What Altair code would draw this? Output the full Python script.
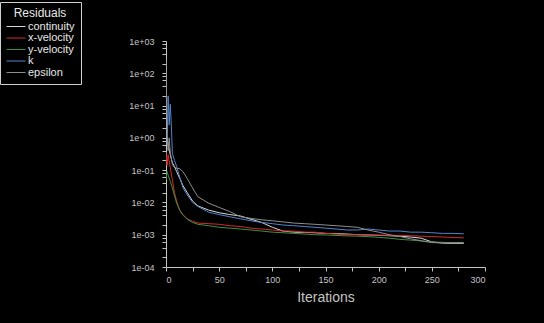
import altair as alt
import pandas as pd

# ---- data ----
series_names = ["continuity", "x-velocity", "y-velocity", "k", "epsilon"]
series_colors = ["#d8d8d8", "#d42a2a", "#3f8f3f", "#5484cc", "#8e8e8e"]

continuity_iter = [1, 2, 4, 6, 8, 10, 13, 16, 20, 25, 30, 40, 50, 60, 70, 80, 90, 100, 110, 120,
                   130, 140, 150, 160, 170, 180, 190, 200, 210, 220, 230, 240, 250, 260, 270, 280]
continuity_val = [1.0, 0.6, 0.3, 0.17, 0.13, 0.09, 0.055, 0.033, 0.02, 0.011, 0.0078, 0.0058, 0.0048,
                  0.0042, 0.0038, 0.003, 0.0024, 0.0017, 0.0013, 0.0012, 0.00118, 0.00115, 0.0011,
                  0.00108, 0.00105, 0.001, 0.00098, 0.00096, 0.00093, 0.0009, 0.00085, 0.00078,
                  0.0006, 0.00055, 0.00054, 0.00054]

vel_iter = [0, 1, 2, 4, 6, 8, 10, 13, 16, 20, 25, 30, 40, 50, 60, 70, 80, 90, 100, 110, 120, 130,
            140, 150, 160, 170, 180, 190, 200, 210, 220, 230, 240, 250, 260, 270, 280]
x_velocity_val = [0.36, 0.14, 0.3, 0.12, 0.05, 0.02, 0.011, 0.0058, 0.0042, 0.0031, 0.0026, 0.0023,
                  0.0022, 0.0021, 0.0019, 0.0018, 0.0016, 0.0015, 0.0014, 0.0013, 0.0013, 0.0012,
                  0.0012, 0.0011, 0.00105, 0.001, 0.001, 0.00098, 0.00097, 0.00096, 0.00095,
                  0.00093, 0.0009, 0.00088, 0.00085, 0.00082, 0.0008]
y_velocity_val = [0.05, 0.09, 0.07, 0.045, 0.028, 0.016, 0.0095, 0.0056, 0.004, 0.003, 0.0024, 0.0021,
                  0.0019, 0.0017, 0.0016, 0.0015, 0.0014, 0.0013, 0.0012, 0.00115, 0.0011, 0.00105,
                  0.001, 0.00098, 0.00095, 0.00092, 0.0009, 0.00087, 0.00083, 0.00078, 0.00072,
                  0.00068, 0.00064, 0.0006, 0.00058, 0.00057, 0.00056]

k_iter = [1, 2, 3, 4, 5, 6, 8, 10, 13, 16, 20, 25, 30, 40, 50, 60, 70, 80, 90, 100, 110, 120, 130,
          140, 150, 160, 170, 180, 190, 200, 210, 220, 230, 240, 250, 260, 270, 280]
k_val = [0.6, 20, 2.5, 11, 2.5, 0.33, 0.2, 0.13, 0.06, 0.028, 0.017, 0.01, 0.0075, 0.005, 0.0042,
         0.0036, 0.0031, 0.0027, 0.0024, 0.0022, 0.002, 0.0019, 0.0018, 0.0017, 0.0016, 0.0015,
         0.0014, 0.0014, 0.0015, 0.0014, 0.0013, 0.0013, 0.0012, 0.0012, 0.00115, 0.0011, 0.0011,
         0.00107]

eps_iter = [0, 1, 2, 3, 4, 6, 8, 10, 13, 16, 20, 25, 30, 40, 50, 60, 70, 80, 90, 100, 110, 120, 130,
            140, 150, 160, 170, 180, 190, 200, 210, 220, 230, 240, 250, 260, 270, 280]
eps_val = [280, 1.2, 0.4, 1.0, 0.35, 0.15, 0.12, 0.115, 0.11, 0.09, 0.055, 0.028, 0.015, 0.0095,
           0.007, 0.0052, 0.0036, 0.0032, 0.0029, 0.0027, 0.0025, 0.0023, 0.0022, 0.0021, 0.002,
           0.0019, 0.0018, 0.0017, 0.0014, 0.0012, 0.001, 0.00088, 0.00075, 0.00065, 0.00057,
           0.00056, 0.00056, 0.00057]

x_tick_values = [0, 25, 50, 75, 100, 125, 150, 175, 200, 225, 250, 275, 300]
y_decades = [1e-4, 1e-3, 1e-2, 1e-1, 1e0, 1e1, 1e2, 1e3]
y_minor_mult = [2, 4, 6, 8]

# ---- build the table ----
rows = []
for name, its, vals in [
    ("continuity", continuity_iter, continuity_val),
    ("x-velocity", vel_iter, x_velocity_val),
    ("y-velocity", vel_iter, y_velocity_val),
    ("k", k_iter, k_val),
    ("epsilon", eps_iter, eps_val),
]:
    for i, v in zip(its, vals):
        rows.append({"series": name, "iter": i, "value": v})
df = pd.DataFrame(rows)

y_tick_values = sorted(y_decades + [d * m for d in y_decades[:-1] for m in y_minor_mult])

y_label_expr = (
    "abs(log(datum.value)/LN10 - round(log(datum.value)/LN10)) < 0.001 ? "
    "('1e' + (round(log(datum.value)/LN10) < 0 ? '-' : '+') + '0' + abs(round(log(datum.value)/LN10))) : ''"
)

FONT = "Liberation Sans"
AX = "#c4c4c4"

chart = alt.Chart(df).mark_line(strokeWidth=1, clip=True).encode(
    x=alt.X("iter:Q",
            scale=alt.Scale(domain=[0, 300], nice=False),
            axis=alt.Axis(values=x_tick_values, title="Iterations",
                          labelExpr="datum.value % 50 == 0 ? datum.label : ''",
                          labelOverlap=False, grid=False, tickSize=4, labelPadding=4,
                          titlePadding=6, titleFontSize=14, titleFontWeight="normal",
                          labelFontSize=9)),
    y=alt.Y("value:Q",
            scale=alt.Scale(type="log", domain=[1e-4, 1e3], nice=False),
            axis=alt.Axis(values=y_tick_values, title=None, labelExpr=y_label_expr,
                          labelOverlap=False, grid=False, tickSize=4, labelPadding=8,
                          labelFontSize=9)),
    color=alt.Color("series:N",
                    scale=alt.Scale(domain=series_names, range=series_colors),
                    sort=series_names,
                    legend=alt.Legend(title="Residuals", orient="none", legendX=-166, legendY=-39,
                                      fillColor="#000000", strokeColor="#d0d0d0",
                                      padding=6, symbolType="stroke", symbolSize=361,
                                      symbolStrokeWidth=1, clipHeight=9, rowPadding=-0.5,
                                      labelFontSize=11, titleFontSize=12, titleFontWeight="normal",
                                      labelColor="#e8e8e8", titleColor="#e8e8e8",
                                      titleAnchor="middle", titlePadding=2, labelOffset=2,
                                      labelFont=FONT, titleFont=FONT)),
    detail="series:N",
).properties(
    width=319, height=226,
    padding={"left": 166, "top": 41, "right": 59, "bottom": 56},
    autosize=alt.AutoSizeParams(type="none"),
    background="#000000",
).configure_view(
    stroke=None
).configure_axis(
    domainColor=AX, tickColor=AX, labelColor=AX, titleColor=AX,
    labelFont=FONT, titleFont=FONT,
)

chart.save("out.html", embed_options={"renderer": "svg", "actions": False})
